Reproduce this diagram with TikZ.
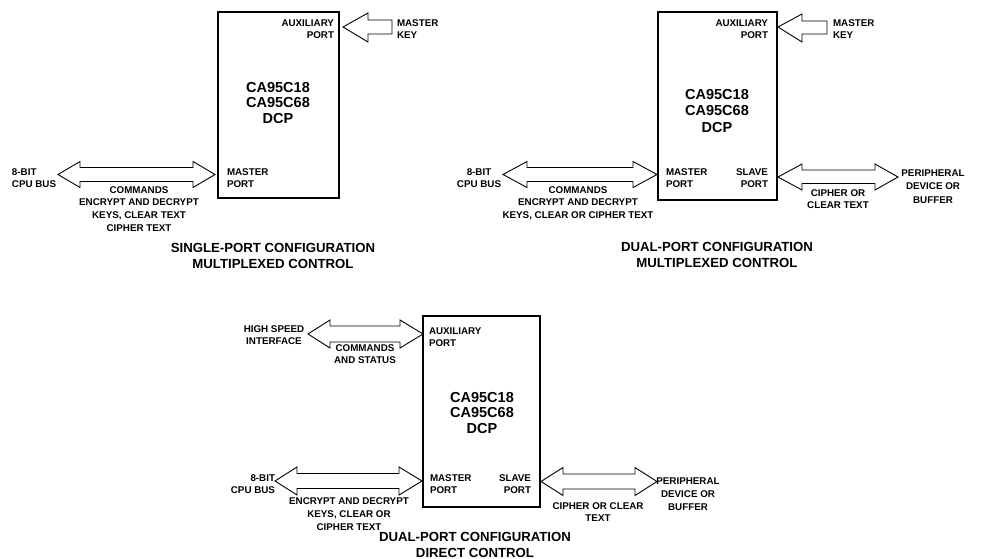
\documentclass[tikz,border=0pt]{standalone}
\usepackage{fontspec}
\setmainfont{Liberation Sans}
\begin{document}
\begin{tikzpicture}[x=1pt,y=-1pt,
 lbl/.style={font=\fontsize{9.8}{#1}\selectfont\bfseries, inner sep=0pt, outer sep=0pt},
 lbl/.default=12.6,
 chip/.style={font=\fontsize{14.5}{#1}\selectfont\bfseries, inner sep=0pt, align=center, anchor=north},
 chip/.default=15.8,
 capt/.style={font=\fontsize{13.2}{#1}\selectfont\bfseries, inner sep=0pt, align=center, anchor=north},
 capt/.default=15.5,
 dcp/.style={draw, line width=1.6pt, inner sep=0pt, outer sep=0pt},
 harrow/.style={draw, line width=0.9pt, line join=miter}]
\useasboundingbox (0,0) rectangle (985,559);

% ---------------- top left: single-port, multiplexed ----------------
\node[dcp, minimum width=121pt, minimum height=186pt] (box1) at (278.5,105) {};
\node[chip] (chip1) at (278,81.8) {CA95C18\\CA95C68\\DCP};
\node[lbl, anchor=north east, align=right] (aux1) at (334,19.5) {AUXILIARY\\PORT};
\node[lbl, anchor=north west, align=left] (mk1) at (397,19.5) {MASTER\\KEY};
\node[lbl, anchor=north west, align=left] (mp1) at (227,168.5) {MASTER\\PORT};
\node[lbl, anchor=north west, align=left] (cpu1) at (12,168.5) {8-BIT\\CPU BUS};
\node[lbl, anchor=north, align=center] (cmd1) at (139,186.5) {COMMANDS\\ENCRYPT AND DECRYPT\\KEYS, CLEAR TEXT\\CIPHER TEXT};
\node[capt] (cap1) at (273,243.3) {SINGLE-PORT CONFIGURATION\\MULTIPLEXED CONTROL};
\draw[harrow] (343,27) -- (368,13) -- (368,20) -- (392,20) -- (392,34) -- (368,34) -- (368,42) -- cycle;
\draw[harrow] (58,174.5) -- (80,161.5) -- (80,167.5) -- (193,167.5) -- (193,161.5) -- (215,174.5)
  -- (193,187.5) -- (193,181.5) -- (80,181.5) -- (80,187.5) -- cycle;

% ---------------- top right: dual-port, multiplexed ----------------
\node[dcp, minimum width=119pt, minimum height=188pt] (box2) at (717.5,106) {};
\node[chip={16.5}] (chip2) at (717,88.8) {CA95C18\\CA95C68\\DCP};
\node[lbl, anchor=north east, align=right] (aux2) at (768,19.5) {AUXILIARY\\PORT};
\node[lbl, anchor=north west, align=left] (mk2) at (833,19.5) {MASTER\\KEY};
\node[lbl, anchor=north west, align=left] (mp2) at (666,168.5) {MASTER\\PORT};
\node[lbl, anchor=north east, align=right] (sp2) at (768,168.5) {SLAVE\\PORT};
\node[lbl, anchor=north, align=center] (cpu2) at (479,168.5) {8-BIT\\CPU BUS};
\node[lbl, anchor=north, align=center] (cmd2) at (578,186.5) {COMMANDS\\ENCRYPT AND DECRYPT\\KEYS, CLEAR OR CIPHER TEXT};
\node[lbl, anchor=north, align=center] (cc2) at (838,189.5) {CIPHER OR\\CLEAR TEXT};
\node[lbl={13.5}, anchor=north, align=center] (per2) at (933,169.5) {PERIPHERAL\\DEVICE OR\\BUFFER};
\node[capt] (cap2) at (717,242.3) {DUAL-PORT CONFIGURATION\\MULTIPLEXED CONTROL};
\draw[harrow] (778,27) -- (802,14) -- (802,21) -- (827,21) -- (827,34) -- (802,34) -- (802,42) -- cycle;
\draw[harrow] (503,174.5) -- (527,161.5) -- (527,167.5) -- (633,167.5) -- (633,161.5) -- (657,174.5)
  -- (633,187.5) -- (633,181.5) -- (527,181.5) -- (527,187.5) -- cycle;
\draw[harrow] (778,177) -- (802,164) -- (802,170) -- (875,170) -- (875,164) -- (898,177)
  -- (875,190) -- (875,183.5) -- (802,183.5) -- (802,190) -- cycle;

% ---------------- bottom: dual-port, direct ----------------
\node[dcp, minimum width=117pt, minimum height=191pt] (box3) at (481.5,411.5) {};
\node[chip] (chip3) at (482,391.8) {CA95C18\\CA95C68\\DCP};
\node[lbl={12}, anchor=north west, align=left] (aux3) at (429,327.5) {AUXILIARY\\PORT};
\node[lbl, anchor=north, align=center] (hsi) at (274,325.5) {HIGH SPEED\\INTERFACE};
\node[lbl, anchor=north, align=center] (cs3) at (365,344.5) {COMMANDS\\AND STATUS};
\node[lbl={12}, anchor=north west, align=left] (mp3) at (430,474.5) {MASTER\\PORT};
\node[lbl={12}, anchor=north east, align=right] (sp3) at (531,474.5) {SLAVE\\PORT};
\node[lbl={12}, anchor=north east, align=right] (cpu3) at (275,474.5) {8-BIT\\CPU BUS};
\node[lbl={13}, anchor=north, align=center] (ed3) at (349,497.5) {ENCRYPT AND DECRYPT\\KEYS, CLEAR OR\\CIPHER TEXT};
\node[lbl={12}, anchor=north, align=center] (cc3) at (598,502.5) {CIPHER OR CLEAR\\TEXT};
\node[lbl={13}, anchor=north, align=center] (per3) at (688,477.5) {PERIPHERAL\\DEVICE OR\\BUFFER};
\node[capt={16}] (cap3) at (475,532.3) {DUAL-PORT CONFIGURATION\\DIRECT CONTROL};
\draw[harrow] (308,334) -- (330,320) -- (330,326) -- (400,326) -- (400,320) -- (423,334)
  -- (400,348) -- (400,342) -- (330,342) -- (330,348) -- cycle;
\draw[harrow] (275,481) -- (297,467) -- (297,473.5) -- (399,473.5) -- (399,467) -- (422,481)
  -- (399,495) -- (399,488.5) -- (297,488.5) -- (297,495) -- cycle;
\draw[harrow] (541,481.5) -- (563,467.5) -- (563,474) -- (635,474) -- (635,467.5) -- (657,481.5)
  -- (635,495.5) -- (635,489) -- (563,489) -- (563,495.5) -- cycle;
\end{tikzpicture}
\end{document}
